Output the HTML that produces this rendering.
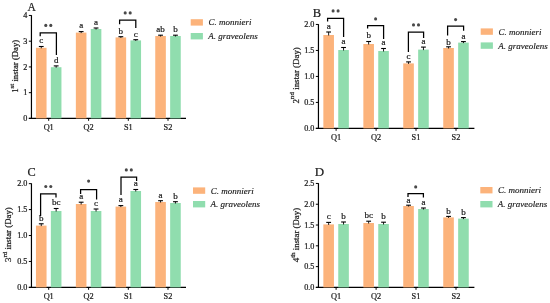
<!DOCTYPE html>
<html><head><meta charset="utf-8"><style>
html,body{margin:0;padding:0;background:#fff;}
body{width:550px;height:303px;overflow:hidden;}
svg{display:block;will-change:transform;}
.t{font-family:"Liberation Serif",serif;fill:#1a1a1a;stroke:#1a1a1a;stroke-width:0.22px;}
.ti{font-family:"Liberation Serif",serif;font-style:italic;fill:#1a1a1a;stroke:#1a1a1a;stroke-width:0.15px;}
</style></head><body>
<svg width="550" height="303" viewBox="0 0 550 303">
<defs><filter id="bl" x="-1" y="-1" width="3" height="3"><feGaussianBlur stdDeviation="0.35"/></filter></defs>
<rect width="550" height="303" fill="#fff"/>
<text x="27.6" y="11" font-size="11.5" class="t">A</text>
<line x1="31.45" y1="15.15" x2="31.45" y2="118.90" stroke="#000" stroke-width="1.2"/>
<line x1="28.85" y1="118.4" x2="186" y2="118.4" stroke="#000" stroke-width="1.2"/>
<line x1="28.85" y1="118.40" x2="31.45" y2="118.40" stroke="#000" stroke-width="1"/>
<text x="27.45" y="121.20" font-size="8.2" text-anchor="end" class="t">0</text>
<line x1="28.85" y1="92.66" x2="31.45" y2="92.66" stroke="#000" stroke-width="1"/>
<text x="27.45" y="95.46" font-size="8.2" text-anchor="end" class="t">1</text>
<line x1="28.85" y1="66.93" x2="31.45" y2="66.93" stroke="#000" stroke-width="1"/>
<text x="27.45" y="69.73" font-size="8.2" text-anchor="end" class="t">2</text>
<line x1="28.85" y1="41.19" x2="31.45" y2="41.19" stroke="#000" stroke-width="1"/>
<text x="27.45" y="43.99" font-size="8.2" text-anchor="end" class="t">3</text>
<line x1="28.85" y1="15.45" x2="31.45" y2="15.45" stroke="#000" stroke-width="1"/>
<text x="27.45" y="18.25" font-size="8.2" text-anchor="end" class="t">4</text>
<line x1="48.7" y1="118.4" x2="48.7" y2="120.80000000000001" stroke="#000" stroke-width="1"/>
<text x="48.7" y="130.20000000000002" font-size="8.3" text-anchor="middle" class="t">Q1</text>
<line x1="88.6" y1="118.4" x2="88.6" y2="120.80000000000001" stroke="#000" stroke-width="1"/>
<text x="88.6" y="130.20000000000002" font-size="8.3" text-anchor="middle" class="t">Q2</text>
<line x1="128.3" y1="118.4" x2="128.3" y2="120.80000000000001" stroke="#000" stroke-width="1"/>
<text x="128.3" y="130.20000000000002" font-size="8.3" text-anchor="middle" class="t">S1</text>
<line x1="168.0" y1="118.4" x2="168.0" y2="120.80000000000001" stroke="#000" stroke-width="1"/>
<text x="168.0" y="130.20000000000002" font-size="8.3" text-anchor="middle" class="t">S2</text>
<rect x="35.95" y="47.80" width="10.6" height="70.60" fill="#FCB37B"/>
<line x1="41.25" y1="46.50" x2="41.25" y2="48.30" stroke="#000" stroke-width="0.9"/>
<line x1="38.85" y1="46.50" x2="43.65" y2="46.50" stroke="#000" stroke-width="1.1"/>
<text x="41.25" y="43.30" font-size="9" text-anchor="middle" class="t">c</text>
<rect x="50.85" y="67.20" width="10.6" height="51.20" fill="#90DDAE"/>
<line x1="56.15" y1="65.90" x2="56.15" y2="67.70" stroke="#000" stroke-width="0.9"/>
<line x1="53.75" y1="65.90" x2="58.55" y2="65.90" stroke="#000" stroke-width="1.1"/>
<text x="56.15" y="63.20" font-size="9" text-anchor="middle" class="t">d</text>
<rect x="75.85" y="32.60" width="10.6" height="85.80" fill="#FCB37B"/>
<line x1="81.15" y1="31.60" x2="81.15" y2="33.10" stroke="#000" stroke-width="0.9"/>
<line x1="78.75" y1="31.60" x2="83.55" y2="31.60" stroke="#000" stroke-width="1.1"/>
<text x="81.15" y="28.40" font-size="9" text-anchor="middle" class="t">a</text>
<rect x="90.75" y="29.00" width="10.6" height="89.40" fill="#90DDAE"/>
<line x1="96.05" y1="28.00" x2="96.05" y2="29.50" stroke="#000" stroke-width="0.9"/>
<line x1="93.65" y1="28.00" x2="98.45" y2="28.00" stroke="#000" stroke-width="1.1"/>
<text x="96.05" y="24.80" font-size="9" text-anchor="middle" class="t">a</text>
<rect x="115.55" y="37.40" width="10.6" height="81.00" fill="#FCB37B"/>
<line x1="120.85" y1="36.70" x2="120.85" y2="37.90" stroke="#000" stroke-width="0.9"/>
<line x1="118.45" y1="36.70" x2="123.25" y2="36.70" stroke="#000" stroke-width="1.1"/>
<text x="120.85" y="33.50" font-size="9" text-anchor="middle" class="t">b</text>
<rect x="130.45" y="40.40" width="10.6" height="78.00" fill="#90DDAE"/>
<line x1="135.75" y1="39.70" x2="135.75" y2="40.90" stroke="#000" stroke-width="0.9"/>
<line x1="133.35" y1="39.70" x2="138.15" y2="39.70" stroke="#000" stroke-width="1.1"/>
<text x="135.75" y="36.50" font-size="9" text-anchor="middle" class="t">c</text>
<rect x="155.25" y="36.00" width="10.6" height="82.40" fill="#FCB37B"/>
<line x1="160.55" y1="35.20" x2="160.55" y2="36.50" stroke="#000" stroke-width="0.9"/>
<line x1="158.15" y1="35.20" x2="162.95" y2="35.20" stroke="#000" stroke-width="1.1"/>
<text x="160.55" y="32.00" font-size="9" text-anchor="middle" class="t">ab</text>
<rect x="170.15" y="36.00" width="10.6" height="82.40" fill="#90DDAE"/>
<line x1="175.45" y1="35.20" x2="175.45" y2="36.50" stroke="#000" stroke-width="0.9"/>
<line x1="173.05" y1="35.20" x2="177.85" y2="35.20" stroke="#000" stroke-width="1.1"/>
<text x="175.45" y="32.00" font-size="9" text-anchor="middle" class="t">b</text>
<path d="M40.2 36.3 V32.8 H56.4 V55.0" fill="none" stroke="#000" stroke-width="1.25"/>
<circle cx="45.80" cy="25.40" r="1.55" fill="#484848" filter="url(#bl)"/>
<circle cx="50.80" cy="25.40" r="1.55" fill="#484848" filter="url(#bl)"/>
<path d="M119.6 24.3 V20.2 H135.8 V28" fill="none" stroke="#000" stroke-width="1.25"/>
<circle cx="125.20" cy="12.90" r="1.55" fill="#484848" filter="url(#bl)"/>
<circle cx="130.20" cy="12.90" r="1.55" fill="#484848" filter="url(#bl)"/>
<rect x="190.7" y="19.2" width="12.2" height="6.4" fill="#FCB37B"/>
<rect x="190.7" y="33.0" width="12.2" height="6.4" fill="#90DDAE"/>
<text x="208.5" y="25.4" font-size="9" class="ti">C. monnieri</text>
<text x="208.2" y="39.2" font-size="9" class="ti">A. graveolens</text>
<text transform="translate(18.4,66.3) rotate(-90)" font-size="8.7" text-anchor="middle" class="t">1<tspan font-size="6.96" dy="-4.35">st</tspan><tspan dy="4.35"> instar (Day)</tspan></text>
<text x="312.8" y="16.7" font-size="12.5" class="t">B</text>
<line x1="318.45" y1="24.15" x2="318.45" y2="128.90" stroke="#000" stroke-width="1.2"/>
<line x1="315.85" y1="128.4" x2="474.4" y2="128.4" stroke="#000" stroke-width="1.2"/>
<line x1="315.85" y1="128.40" x2="318.45" y2="128.40" stroke="#000" stroke-width="1"/>
<text x="314.45" y="131.20" font-size="8.2" text-anchor="end" class="t">0.0</text>
<line x1="315.85" y1="102.41" x2="318.45" y2="102.41" stroke="#000" stroke-width="1"/>
<text x="314.45" y="105.21" font-size="8.2" text-anchor="end" class="t">0.5</text>
<line x1="315.85" y1="76.43" x2="318.45" y2="76.43" stroke="#000" stroke-width="1"/>
<text x="314.45" y="79.23" font-size="8.2" text-anchor="end" class="t">1.0</text>
<line x1="315.85" y1="50.44" x2="318.45" y2="50.44" stroke="#000" stroke-width="1"/>
<text x="314.45" y="53.24" font-size="8.2" text-anchor="end" class="t">1.5</text>
<line x1="315.85" y1="24.45" x2="318.45" y2="24.45" stroke="#000" stroke-width="1"/>
<text x="314.45" y="27.25" font-size="8.2" text-anchor="end" class="t">2.0</text>
<line x1="336.1" y1="128.4" x2="336.1" y2="130.8" stroke="#000" stroke-width="1"/>
<text x="336.1" y="140.20000000000002" font-size="8.3" text-anchor="middle" class="t">Q1</text>
<line x1="376.1" y1="128.4" x2="376.1" y2="130.8" stroke="#000" stroke-width="1"/>
<text x="376.1" y="140.20000000000002" font-size="8.3" text-anchor="middle" class="t">Q2</text>
<line x1="416" y1="128.4" x2="416" y2="130.8" stroke="#000" stroke-width="1"/>
<text x="416" y="140.20000000000002" font-size="8.3" text-anchor="middle" class="t">S1</text>
<line x1="456" y1="128.4" x2="456" y2="130.8" stroke="#000" stroke-width="1"/>
<text x="456" y="140.20000000000002" font-size="8.3" text-anchor="middle" class="t">S2</text>
<rect x="323.35" y="35.00" width="10.6" height="93.40" fill="#FCB37B"/>
<line x1="328.65" y1="32.00" x2="328.65" y2="35.50" stroke="#000" stroke-width="0.9"/>
<line x1="326.25" y1="32.00" x2="331.05" y2="32.00" stroke="#000" stroke-width="1.1"/>
<text x="328.65" y="28.80" font-size="9" text-anchor="middle" class="t">a</text>
<rect x="338.25" y="50.00" width="10.6" height="78.40" fill="#90DDAE"/>
<line x1="343.55" y1="47.50" x2="343.55" y2="50.50" stroke="#000" stroke-width="0.9"/>
<line x1="341.15" y1="47.50" x2="345.95" y2="47.50" stroke="#000" stroke-width="1.1"/>
<text x="343.55" y="44.30" font-size="9" text-anchor="middle" class="t">a</text>
<rect x="363.35" y="44.00" width="10.6" height="84.40" fill="#FCB37B"/>
<line x1="368.65" y1="41.50" x2="368.65" y2="44.50" stroke="#000" stroke-width="0.9"/>
<line x1="366.25" y1="41.50" x2="371.05" y2="41.50" stroke="#000" stroke-width="1.1"/>
<text x="368.65" y="38.30" font-size="9" text-anchor="middle" class="t">b</text>
<rect x="378.25" y="51.00" width="10.6" height="77.40" fill="#90DDAE"/>
<line x1="383.55" y1="48.50" x2="383.55" y2="51.50" stroke="#000" stroke-width="0.9"/>
<line x1="381.15" y1="48.50" x2="385.95" y2="48.50" stroke="#000" stroke-width="1.1"/>
<text x="383.55" y="45.30" font-size="9" text-anchor="middle" class="t">a</text>
<rect x="403.25" y="63.40" width="10.6" height="65.00" fill="#FCB37B"/>
<line x1="408.55" y1="61.90" x2="408.55" y2="63.90" stroke="#000" stroke-width="0.9"/>
<line x1="406.15" y1="61.90" x2="410.95" y2="61.90" stroke="#000" stroke-width="1.1"/>
<text x="408.55" y="58.70" font-size="9" text-anchor="middle" class="t">c</text>
<rect x="418.15" y="49.60" width="10.6" height="78.80" fill="#90DDAE"/>
<line x1="423.45" y1="47.10" x2="423.45" y2="50.10" stroke="#000" stroke-width="0.9"/>
<line x1="421.05" y1="47.10" x2="425.85" y2="47.10" stroke="#000" stroke-width="1.1"/>
<text x="423.45" y="43.90" font-size="9" text-anchor="middle" class="t">a</text>
<rect x="443.25" y="48.00" width="10.6" height="80.40" fill="#FCB37B"/>
<line x1="448.55" y1="46.80" x2="448.55" y2="48.50" stroke="#000" stroke-width="0.9"/>
<line x1="446.15" y1="46.80" x2="450.95" y2="46.80" stroke="#000" stroke-width="1.1"/>
<text x="448.55" y="44.60" font-size="9" text-anchor="middle" class="t">b</text>
<rect x="458.15" y="42.60" width="10.6" height="85.80" fill="#90DDAE"/>
<line x1="463.45" y1="41.60" x2="463.45" y2="43.10" stroke="#000" stroke-width="0.9"/>
<line x1="461.05" y1="41.60" x2="465.85" y2="41.60" stroke="#000" stroke-width="1.1"/>
<text x="463.45" y="39.20" font-size="9" text-anchor="middle" class="t">a</text>
<path d="M327.6 21.6 V18.4 H343.6 V37" fill="none" stroke="#000" stroke-width="1.25"/>
<circle cx="333.10" cy="10.90" r="1.55" fill="#484848" filter="url(#bl)"/>
<circle cx="338.10" cy="10.90" r="1.55" fill="#484848" filter="url(#bl)"/>
<path d="M367.6 28.6 V25.6 H383.6 V39" fill="none" stroke="#000" stroke-width="1.25"/>
<circle cx="375.60" cy="18.90" r="1.55" fill="#484848" filter="url(#bl)"/>
<path d="M408.4 52 V32 H423.6 V38" fill="none" stroke="#000" stroke-width="1.25"/>
<circle cx="413.50" cy="24.90" r="1.55" fill="#484848" filter="url(#bl)"/>
<circle cx="418.50" cy="24.90" r="1.55" fill="#484848" filter="url(#bl)"/>
<path d="M447.6 35.5 V26.2 H463.6 V30.8" fill="none" stroke="#000" stroke-width="1.25"/>
<circle cx="455.60" cy="19.60" r="1.55" fill="#484848" filter="url(#bl)"/>
<rect x="480.7" y="28.4" width="12.2" height="6.4" fill="#FCB37B"/>
<rect x="480.7" y="42.4" width="12.2" height="6.4" fill="#90DDAE"/>
<text x="498.5" y="34.6" font-size="9" class="ti">C. monnieri</text>
<text x="498.2" y="48.6" font-size="9" class="ti">A. graveolens</text>
<text transform="translate(298.6,75.4) rotate(-90)" font-size="8.9" text-anchor="middle" class="t">2<tspan font-size="7.12" dy="-4.45">nd</tspan><tspan dy="4.45"> instar (Day)</tspan></text>
<text x="27.4" y="175.6" font-size="12.3" class="t">C</text>
<line x1="31.45" y1="183.35" x2="31.45" y2="287.90" stroke="#000" stroke-width="1.2"/>
<line x1="28.85" y1="287.4" x2="186" y2="287.4" stroke="#000" stroke-width="1.2"/>
<line x1="28.85" y1="287.40" x2="31.45" y2="287.40" stroke="#000" stroke-width="1"/>
<text x="27.45" y="290.20" font-size="8.2" text-anchor="end" class="t">0.0</text>
<line x1="28.85" y1="261.46" x2="31.45" y2="261.46" stroke="#000" stroke-width="1"/>
<text x="27.45" y="264.26" font-size="8.2" text-anchor="end" class="t">0.5</text>
<line x1="28.85" y1="235.52" x2="31.45" y2="235.52" stroke="#000" stroke-width="1"/>
<text x="27.45" y="238.32" font-size="8.2" text-anchor="end" class="t">1.0</text>
<line x1="28.85" y1="209.59" x2="31.45" y2="209.59" stroke="#000" stroke-width="1"/>
<text x="27.45" y="212.39" font-size="8.2" text-anchor="end" class="t">1.5</text>
<line x1="28.85" y1="183.65" x2="31.45" y2="183.65" stroke="#000" stroke-width="1"/>
<text x="27.45" y="186.45" font-size="8.2" text-anchor="end" class="t">2.0</text>
<line x1="48.7" y1="287.4" x2="48.7" y2="289.79999999999995" stroke="#000" stroke-width="1"/>
<text x="48.7" y="299.2" font-size="8.3" text-anchor="middle" class="t">Q1</text>
<line x1="88.6" y1="287.4" x2="88.6" y2="289.79999999999995" stroke="#000" stroke-width="1"/>
<text x="88.6" y="299.2" font-size="8.3" text-anchor="middle" class="t">Q2</text>
<line x1="128.3" y1="287.4" x2="128.3" y2="289.79999999999995" stroke="#000" stroke-width="1"/>
<text x="128.3" y="299.2" font-size="8.3" text-anchor="middle" class="t">S1</text>
<line x1="168.0" y1="287.4" x2="168.0" y2="289.79999999999995" stroke="#000" stroke-width="1"/>
<text x="168.0" y="299.2" font-size="8.3" text-anchor="middle" class="t">S2</text>
<rect x="35.95" y="225.60" width="10.6" height="61.80" fill="#FCB37B"/>
<line x1="41.25" y1="223.80" x2="41.25" y2="226.10" stroke="#000" stroke-width="0.9"/>
<line x1="38.85" y1="223.80" x2="43.65" y2="223.80" stroke="#000" stroke-width="1.1"/>
<text x="41.25" y="220.60" font-size="9" text-anchor="middle" class="t">b</text>
<rect x="50.85" y="211.00" width="10.6" height="76.40" fill="#90DDAE"/>
<line x1="56.15" y1="208.50" x2="56.15" y2="211.50" stroke="#000" stroke-width="0.9"/>
<line x1="53.75" y1="208.50" x2="58.55" y2="208.50" stroke="#000" stroke-width="1.1"/>
<text x="56.15" y="205.30" font-size="9" text-anchor="middle" class="t">bc</text>
<rect x="75.85" y="204.00" width="10.6" height="83.40" fill="#FCB37B"/>
<line x1="81.15" y1="202.20" x2="81.15" y2="204.50" stroke="#000" stroke-width="0.9"/>
<line x1="78.75" y1="202.20" x2="83.55" y2="202.20" stroke="#000" stroke-width="1.1"/>
<text x="81.15" y="199.00" font-size="9" text-anchor="middle" class="t">a</text>
<rect x="90.75" y="211.00" width="10.6" height="76.40" fill="#90DDAE"/>
<line x1="96.05" y1="209.00" x2="96.05" y2="211.50" stroke="#000" stroke-width="0.9"/>
<line x1="93.65" y1="209.00" x2="98.45" y2="209.00" stroke="#000" stroke-width="1.1"/>
<text x="96.05" y="205.80" font-size="9" text-anchor="middle" class="t">c</text>
<rect x="115.55" y="206.60" width="10.6" height="80.80" fill="#FCB37B"/>
<line x1="120.85" y1="205.60" x2="120.85" y2="207.10" stroke="#000" stroke-width="0.9"/>
<line x1="118.45" y1="205.60" x2="123.25" y2="205.60" stroke="#000" stroke-width="1.1"/>
<text x="120.85" y="202.40" font-size="9" text-anchor="middle" class="t">a</text>
<rect x="130.45" y="191.00" width="10.6" height="96.40" fill="#90DDAE"/>
<line x1="135.75" y1="189.50" x2="135.75" y2="191.50" stroke="#000" stroke-width="0.9"/>
<line x1="133.35" y1="189.50" x2="138.15" y2="189.50" stroke="#000" stroke-width="1.1"/>
<text x="135.75" y="186.30" font-size="9" text-anchor="middle" class="t">a</text>
<rect x="155.25" y="202.00" width="10.6" height="85.40" fill="#FCB37B"/>
<line x1="160.55" y1="200.70" x2="160.55" y2="202.50" stroke="#000" stroke-width="0.9"/>
<line x1="158.15" y1="200.70" x2="162.95" y2="200.70" stroke="#000" stroke-width="1.1"/>
<text x="160.55" y="197.50" font-size="9" text-anchor="middle" class="t">a</text>
<rect x="170.15" y="203.00" width="10.6" height="84.40" fill="#90DDAE"/>
<line x1="175.45" y1="201.70" x2="175.45" y2="203.50" stroke="#000" stroke-width="0.9"/>
<line x1="173.05" y1="201.70" x2="177.85" y2="201.70" stroke="#000" stroke-width="1.1"/>
<text x="175.45" y="198.50" font-size="9" text-anchor="middle" class="t">b</text>
<path d="M40.6 216 V193.8 H56 V197.5" fill="none" stroke="#000" stroke-width="1.25"/>
<circle cx="45.80" cy="186.50" r="1.55" fill="#484848" filter="url(#bl)"/>
<circle cx="50.80" cy="186.50" r="1.55" fill="#484848" filter="url(#bl)"/>
<path d="M80.6 194 V189.6 H96.6 V199.5" fill="none" stroke="#000" stroke-width="1.25"/>
<circle cx="88.60" cy="181.10" r="1.55" fill="#484848" filter="url(#bl)"/>
<path d="M121 195 V177 H136.6 V181" fill="none" stroke="#000" stroke-width="1.25"/>
<circle cx="126.30" cy="169.90" r="1.55" fill="#484848" filter="url(#bl)"/>
<circle cx="131.30" cy="169.90" r="1.55" fill="#484848" filter="url(#bl)"/>
<rect x="193" y="187.4" width="12.2" height="6.4" fill="#FCB37B"/>
<rect x="193" y="201" width="12.2" height="6.4" fill="#90DDAE"/>
<text x="210.8" y="193.6" font-size="9" class="ti">C. monnieri</text>
<text x="210.5" y="207.2" font-size="9" class="ti">A. graveolens</text>
<text transform="translate(11.0,234.6) rotate(-90)" font-size="8.8" text-anchor="middle" class="t">3<tspan font-size="7.04" dy="-4.40">rd</tspan><tspan dy="4.40"> instar (Day)</tspan></text>
<text x="314.8" y="176" font-size="13" class="t">D</text>
<line x1="318.45" y1="183.15" x2="318.45" y2="287.90" stroke="#000" stroke-width="1.2"/>
<line x1="315.85" y1="287.4" x2="474.4" y2="287.4" stroke="#000" stroke-width="1.2"/>
<line x1="315.85" y1="287.40" x2="318.45" y2="287.40" stroke="#000" stroke-width="1"/>
<text x="314.45" y="290.20" font-size="8.2" text-anchor="end" class="t">0.0</text>
<line x1="315.85" y1="266.61" x2="318.45" y2="266.61" stroke="#000" stroke-width="1"/>
<text x="314.45" y="269.41" font-size="8.2" text-anchor="end" class="t">0.5</text>
<line x1="315.85" y1="245.82" x2="318.45" y2="245.82" stroke="#000" stroke-width="1"/>
<text x="314.45" y="248.62" font-size="8.2" text-anchor="end" class="t">1.0</text>
<line x1="315.85" y1="225.03" x2="318.45" y2="225.03" stroke="#000" stroke-width="1"/>
<text x="314.45" y="227.83" font-size="8.2" text-anchor="end" class="t">1.5</text>
<line x1="315.85" y1="204.24" x2="318.45" y2="204.24" stroke="#000" stroke-width="1"/>
<text x="314.45" y="207.04" font-size="8.2" text-anchor="end" class="t">2.0</text>
<line x1="315.85" y1="183.45" x2="318.45" y2="183.45" stroke="#000" stroke-width="1"/>
<text x="314.45" y="186.25" font-size="8.2" text-anchor="end" class="t">2.5</text>
<line x1="336.1" y1="287.4" x2="336.1" y2="289.79999999999995" stroke="#000" stroke-width="1"/>
<text x="336.1" y="299.2" font-size="8.3" text-anchor="middle" class="t">Q1</text>
<line x1="376.1" y1="287.4" x2="376.1" y2="289.79999999999995" stroke="#000" stroke-width="1"/>
<text x="376.1" y="299.2" font-size="8.3" text-anchor="middle" class="t">Q2</text>
<line x1="416" y1="287.4" x2="416" y2="289.79999999999995" stroke="#000" stroke-width="1"/>
<text x="416" y="299.2" font-size="8.3" text-anchor="middle" class="t">S1</text>
<line x1="456" y1="287.4" x2="456" y2="289.79999999999995" stroke="#000" stroke-width="1"/>
<text x="456" y="299.2" font-size="8.3" text-anchor="middle" class="t">S2</text>
<rect x="323.35" y="224.40" width="10.6" height="63.00" fill="#FCB37B"/>
<line x1="328.65" y1="222.40" x2="328.65" y2="224.90" stroke="#000" stroke-width="0.9"/>
<line x1="326.25" y1="222.40" x2="331.05" y2="222.40" stroke="#000" stroke-width="1.1"/>
<text x="328.65" y="219.20" font-size="9" text-anchor="middle" class="t">c</text>
<rect x="338.25" y="224.00" width="10.6" height="63.40" fill="#90DDAE"/>
<line x1="343.55" y1="222.00" x2="343.55" y2="224.50" stroke="#000" stroke-width="0.9"/>
<line x1="341.15" y1="222.00" x2="345.95" y2="222.00" stroke="#000" stroke-width="1.1"/>
<text x="343.55" y="218.80" font-size="9" text-anchor="middle" class="t">b</text>
<rect x="363.35" y="223.00" width="10.6" height="64.40" fill="#FCB37B"/>
<line x1="368.65" y1="221.20" x2="368.65" y2="223.50" stroke="#000" stroke-width="0.9"/>
<line x1="366.25" y1="221.20" x2="371.05" y2="221.20" stroke="#000" stroke-width="1.1"/>
<text x="368.65" y="218.00" font-size="9" text-anchor="middle" class="t">bc</text>
<rect x="378.25" y="224.00" width="10.6" height="63.40" fill="#90DDAE"/>
<line x1="383.55" y1="222.20" x2="383.55" y2="224.50" stroke="#000" stroke-width="0.9"/>
<line x1="381.15" y1="222.20" x2="385.95" y2="222.20" stroke="#000" stroke-width="1.1"/>
<text x="383.55" y="219.00" font-size="9" text-anchor="middle" class="t">b</text>
<rect x="403.25" y="206.00" width="10.6" height="81.40" fill="#FCB37B"/>
<line x1="408.55" y1="205.20" x2="408.55" y2="206.50" stroke="#000" stroke-width="0.9"/>
<line x1="406.15" y1="205.20" x2="410.95" y2="205.20" stroke="#000" stroke-width="1.1"/>
<text x="408.55" y="202.80" font-size="9" text-anchor="middle" class="t">a</text>
<rect x="418.15" y="209.00" width="10.6" height="78.40" fill="#90DDAE"/>
<line x1="423.45" y1="208.00" x2="423.45" y2="209.50" stroke="#000" stroke-width="0.9"/>
<line x1="421.05" y1="208.00" x2="425.85" y2="208.00" stroke="#000" stroke-width="1.1"/>
<text x="423.45" y="205.10" font-size="9" text-anchor="middle" class="t">a</text>
<rect x="443.25" y="217.40" width="10.6" height="70.00" fill="#FCB37B"/>
<line x1="448.55" y1="216.40" x2="448.55" y2="217.90" stroke="#000" stroke-width="0.9"/>
<line x1="446.15" y1="216.40" x2="450.95" y2="216.40" stroke="#000" stroke-width="1.1"/>
<text x="448.55" y="214.20" font-size="9" text-anchor="middle" class="t">b</text>
<rect x="458.15" y="218.60" width="10.6" height="68.80" fill="#90DDAE"/>
<line x1="463.45" y1="217.60" x2="463.45" y2="219.10" stroke="#000" stroke-width="0.9"/>
<line x1="461.05" y1="217.60" x2="465.85" y2="217.60" stroke="#000" stroke-width="1.1"/>
<text x="463.45" y="215.40" font-size="9" text-anchor="middle" class="t">b</text>
<path d="M408.0 196.9 V193.5 H423.4 V197.5" fill="none" stroke="#000" stroke-width="1.25"/>
<circle cx="415.70" cy="186.90" r="1.55" fill="#484848" filter="url(#bl)"/>
<rect x="480.3" y="187" width="12.2" height="6.4" fill="#FCB37B"/>
<rect x="480.3" y="201" width="12.2" height="6.4" fill="#90DDAE"/>
<text x="498.1" y="193.2" font-size="9" class="ti">C. monnieri</text>
<text x="497.8" y="207.2" font-size="9" class="ti">A. graveolens</text>
<text transform="translate(299.4,235.1) rotate(-90)" font-size="8.8" text-anchor="middle" class="t">4<tspan font-size="7.04" dy="-4.40">th</tspan><tspan dy="4.40"> instar (Day)</tspan></text>
</svg>
</body></html>
